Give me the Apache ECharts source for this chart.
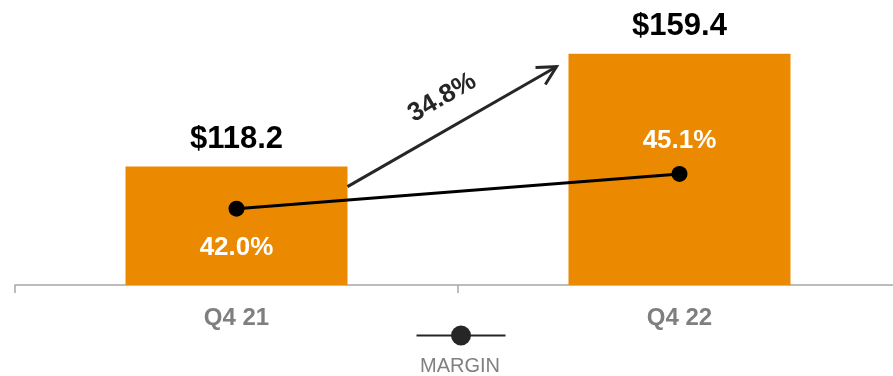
<!DOCTYPE html>
<html>
<head>
<meta charset="utf-8">
<script src="https://cdn.jsdelivr.net/npm/echarts@6/dist/echarts.min.js"></script>
<style>
  html, body { margin: 0; padding: 0; background: #fff; }
  #chart { width: 893px; height: 376px; }
</style>
</head>
<body>
<div id="chart"></div>
<script>
// Quarterly revenue ($) and margin (%)
const categories = ['Q4 21', 'Q4 22'];
const revenue = [118.2, 159.4];
const margin = [42.0, 45.1];
const growthLabel = '34.8%';
const legendName = 'MARGIN';

const FONT = '"Liberation Sans", Arial, sans-serif';
const BAR_WIDTH = 222;

const chart = echarts.init(document.getElementById('chart'), null, { renderer: 'canvas' });

// Arrow between the two bars with the growth rate written along it
function renderGrowthArrow(params, api) {
  const a = api.coord([0, revenue[0]]);
  const b = api.coord([1, revenue[1]]);
  const half = BAR_WIDTH / 2;
  const x1 = a[0] + half, y1 = a[1] + 20;
  const x2 = b[0] - half - 12, y2 = b[1] + 13;
  const dx = x2 - x1, dy = y2 - y1;
  const len = Math.sqrt(dx * dx + dy * dy);
  const ux = dx / len, uy = dy / len;
  const head = 21, spread = 28 * Math.PI / 180;
  const back = Math.atan2(-uy, -ux);
  const p1 = [x2 + head * Math.cos(back + spread), y2 + head * Math.sin(back + spread)];
  const p2 = [x2 + head * Math.cos(back - spread), y2 + head * Math.sin(back - spread)];
  // perpendicular pointing above the shaft
  const px = uy, py = -ux;
  const mx = (x1 + x2) / 2 + ux * 6 + px * 30;
  const my = (y1 + y2) / 2 + uy * 6 + py * 30;
  return {
    type: 'group',
    children: [
      { type: 'line', shape: { x1: x1, y1: y1, x2: x2, y2: y2 },
        style: { stroke: '#262626', lineWidth: 3 } },
      { type: 'polyline', shape: { points: [p1, [x2, y2], p2] },
        style: { stroke: '#262626', lineWidth: 3, fill: null, lineJoin: 'miter' } },
      { type: 'text', x: mx, y: my, rotation: Math.atan2(-dy, dx),
        style: { text: growthLabel, fill: '#262626', font: 'bold 26px ' + FONT,
                 align: 'center', verticalAlign: 'middle' } }
    ]
  };
}

const option = {
  animation: false,
  backgroundColor: '#ffffff',
  // the plot runs past the right edge so the second band is the same width as the first
  grid: { left: 15, right: -8, top: 0, bottom: 91, containLabel: false, outerBoundsMode: 'none' },
  legend: {
    data: [legendName],
    left: 415.5,
    top: 323,
    padding: 0,
    itemWidth: 89,
    itemHeight: 25,
    formatter: function () { return ''; },
    itemStyle: { color: '#262626' },
    lineStyle: { color: '#262626', width: 2 },
    selectedMode: false
  },
  graphic: [
    { type: 'text', x: 460, y: 366,
      style: { text: legendName, fill: '#808080', font: '20px ' + FONT,
               align: 'center', verticalAlign: 'middle' } }
  ],
  xAxis: {
    type: 'category',
    data: categories,
    axisLine: { lineStyle: { color: '#A6A6A6', width: 1.5 } },
    axisTick: { show: true, length: 8, alignWithLabel: false, lineStyle: { color: '#A6A6A6', width: 1.5 } },
    axisLabel: { color: '#7F7F7F', fontSize: 24, fontWeight: 'bold', fontFamily: FONT, margin: 21 },
    splitLine: { show: false }
  },
  yAxis: [
    { type: 'value', min: 75, max: 179, show: false, splitLine: { show: false } },
    { type: 'value', min: 35.2, max: 60.6, show: false, splitLine: { show: false } }
  ],
  series: [
    {
      name: 'Revenue',
      type: 'bar',
      data: revenue,
      barWidth: BAR_WIDTH,
      itemStyle: { color: '#EB8A00' },
      label: {
        show: true,
        position: 'top',
        distance: 12,
        formatter: function (p) { return '$' + p.value.toFixed(1); },
        color: '#000000',
        fontSize: 31,
        fontWeight: 'bold',
        fontFamily: FONT
      },
      z: 2
    },
    {
      name: legendName,
      type: 'line',
      yAxisIndex: 1,
      data: [
        { value: margin[0], label: { position: 'bottom', distance: 18 } },
        { value: margin[1], label: { position: 'top', distance: 12 } }
      ],
      symbol: 'circle',
      symbolSize: 16,
      itemStyle: { color: '#000000' },
      lineStyle: { color: '#000000', width: 3 },
      label: {
        show: true,
        formatter: function (p) { return p.value.toFixed(1) + '%'; },
        color: '#FFFFFF',
        fontSize: 26,
        fontWeight: 'bold',
        fontFamily: FONT
      },
      z: 4
    },
    {
      name: 'Growth',
      type: 'custom',
      xAxisIndex: 0,
      yAxisIndex: 0,
      data: [[0, revenue[0]]],
      renderItem: renderGrowthArrow,
      silent: true,
      z: 3
    }
  ]
};

chart.setOption(option);
</script>
</body>
</html>
